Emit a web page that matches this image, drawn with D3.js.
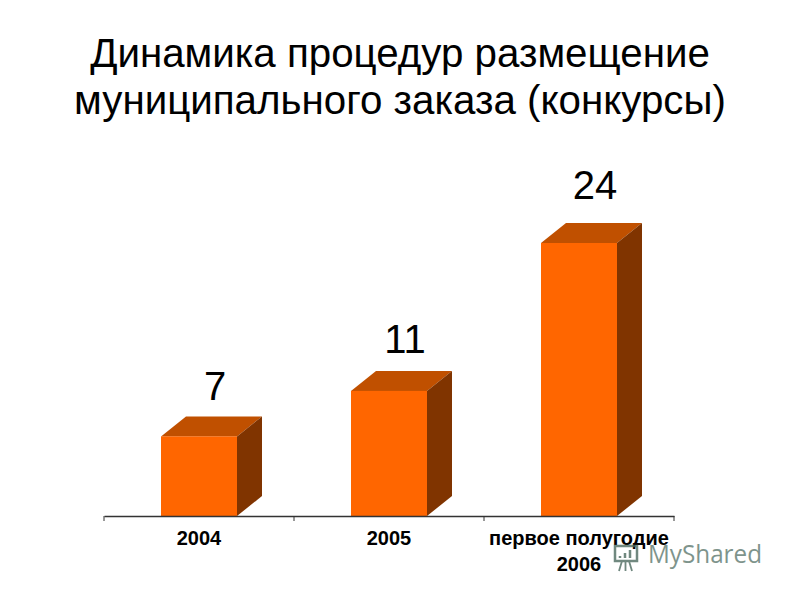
<!DOCTYPE html>
<meta charset="utf-8">
<style>
html, body { margin: 0; background: #fff; }
text { font-family: "Liberation Sans", Arial, sans-serif; fill: #000; }
</style>
<body>
<script src="https://d3js.org/d3.v7.min.js"></script>
<script>

var titleLines = ["Динамика процедур размещение", "муниципального заказа (конкурсы)"];
var categories = ["2004", "2005", "первое полугодие"];
var subLabels = ["", "", "2006"];
var values = [7, 11, 24];

var width = 800, height = 600;
var margin = {left: 104, right: 126, top: 243, bottom: 84};

var svg = d3.select("body").append("svg")
    .attr("width", width)
    .attr("height", height);

// title
svg.append("g").selectAll("text")
    .data(titleLines)
  .enter().append("text")
    .attr("x", 400)
    .attr("y", function(d, i) { return 67 + i * 47; })
    .attr("text-anchor", "middle")
    .attr("font-size", 40.3)
    .text(function(d) { return d; });

var x = d3.scaleBand().domain(categories)
    .range([margin.left, width - margin.right])
    .paddingInner(0.6).paddingOuter(0.3);
var y = d3.scaleLinear().domain([0, 24])
    .range([height - margin.bottom, margin.top]);
// the value labels do not sit at a constant distance above the bars
var labelY = d3.scaleLinear().domain([7, 24]).range([400, 199]);

var depthX = 25, depthY = 20;

var bars = svg.append("g").selectAll("g")
    .data(values)
  .enter().append("g");

function barLeft(i) { return x(categories[i]); }

// top face
bars.append("path")
    .attr("fill", "#c05000")
    .attr("d", function(d, i) {
      var l = barLeft(i), r = l + x.bandwidth(), t = y(d);
      return "M" + l + "," + t + "L" + (l + depthX) + "," + (t - depthY) +
             "L" + (r + depthX) + "," + (t - depthY) + "L" + r + "," + t + "Z";
    });

// side face
bars.append("path")
    .attr("fill", "#803400")
    .attr("d", function(d, i) {
      var r = barLeft(i) + x.bandwidth(), t = y(d), b = y(0);
      return "M" + r + "," + t + "L" + (r + depthX) + "," + (t - depthY) +
             "L" + (r + depthX) + "," + (b - depthY) + "L" + r + "," + b + "Z";
    });

// front face
bars.append("rect")
    .attr("fill", "#ff6600")
    .attr("x", function(d, i) { return barLeft(i); })
    .attr("y", function(d) { return y(d); })
    .attr("width", x.bandwidth())
    .attr("height", function(d) { return y(0) - y(d); });

// value labels
svg.append("g").selectAll("text")
    .data(values)
  .enter().append("text")
    .attr("x", function(d, i) { return barLeft(i) + x.bandwidth() / 2 + 16; })
    .attr("y", function(d) { return labelY(d); })
    .attr("text-anchor", "middle")
    .attr("font-size", 40)
    .text(function(d) { return d; });

// axis
var axis = svg.append("g")
    .attr("transform", "translate(0," + y(0) + ")")
    .call(d3.axisBottom(x).tickSize(0).tickFormat(""));
axis.select(".domain").attr("stroke", "#333").attr("stroke-width", 1.5);

var step = (width - margin.right - margin.left) / categories.length;
axis.selectAll(".sep")
    .data(d3.range(categories.length + 1))
  .enter().append("line")
    .attr("class", "sep")
    .attr("stroke", "#333")
    .attr("x1", function(d) { return margin.left + d * step; })
    .attr("x2", function(d) { return margin.left + d * step; })
    .attr("y1", 0).attr("y2", 5);

// category labels
svg.append("g").selectAll("text")
    .data(categories)
  .enter().append("text")
    .attr("x", function(d, i) { return margin.left + (i + 0.5) * step; })
    .attr("y", 545)
    .attr("text-anchor", "middle")
    .attr("font-size", 20)
    .attr("font-weight", "bold")
    .text(function(d) { return d; });

svg.append("g").selectAll("text")
    .data(subLabels)
  .enter().append("text")
    .attr("x", function(d, i) { return margin.left + (i + 0.5) * step; })
    .attr("y", 571)
    .attr("text-anchor", "middle")
    .attr("font-size", 20)
    .attr("font-weight", "bold")
    .text(function(d) { return d; });

// watermark
var mark = svg.append("g").attr("opacity", 0.8);
mark.append("rect")
    .attr("x", 615).attr("y", 546).attr("width", 22).attr("height", 15)
    .attr("fill", "none").attr("stroke", "#4d6b60").attr("stroke-width", 2.5);
mark.append("path")
    .attr("d", "M619,571L622,561M632,571L629,561M625.5,561V571")
    .attr("fill", "none").attr("stroke", "#4d6b60").attr("stroke-width", 1.8);
mark.append("path")
    .attr("d", "M620,558V556M625,558V553M630,558V550")
    .attr("fill", "none").attr("stroke", "#4d6b60").attr("stroke-width", 2.5);
mark.append("text")
    .attr("x", 648).attr("y", 563)
    .attr("font-size", 25)
    .attr("textLength", 114)
    .attr("lengthAdjust", "spacingAndGlyphs")
    .style("font-family", "'Open Sans', sans-serif")
    .style("fill", "#5f7a70")
    .text("MyShared");

</script>
</body>
